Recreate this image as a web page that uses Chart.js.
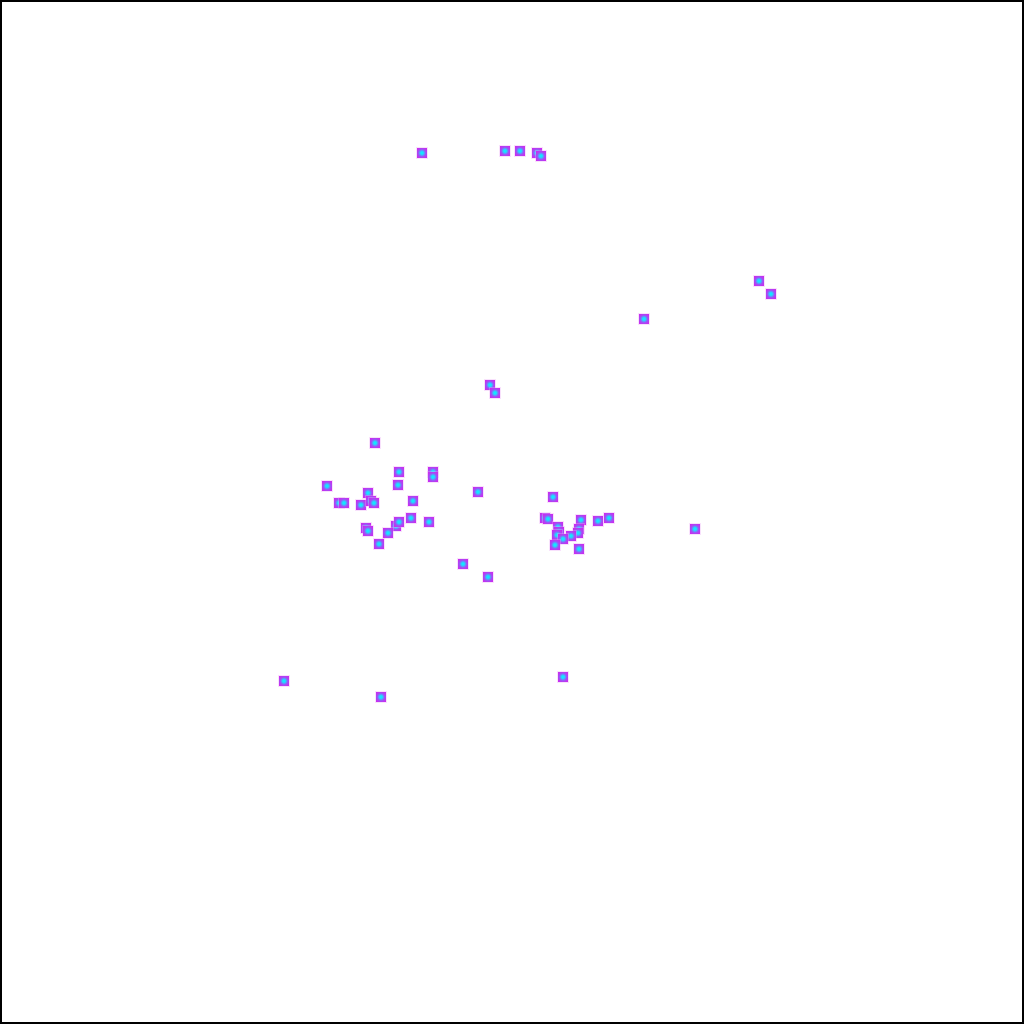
<!DOCTYPE html>
<html>
<head>
<meta charset="utf-8">
<script src="https://cdn.jsdelivr.net/npm/chart.js@4/dist/chart.umd.min.js"></script>
<style>
  html, body { margin: 0; padding: 0; background: #fff; }
  #frame { width: 1024px; height: 1024px; box-sizing: border-box; border: 2px solid #000; }
  #frame canvas { display: block; }
</style>
</head>
<body>
<div id="frame"><canvas id="scatter" width="1020" height="1020"></canvas></div>
<script>
// point positions (same units as the axis range below)
var xs = [422, 505, 520, 537, 541, 759, 771, 644, 490, 495,
          375, 399, 433, 433, 327, 398, 368, 339, 344, 361,
          371, 374, 413, 411, 429, 366, 368, 396, 399, 388,
          379, 478, 553, 545, 548, 581, 598, 609, 558, 559,
          557, 579, 578, 571, 563, 555, 579, 695, 463, 488,
          563, 284, 381];
var ys = [153, 151, 151, 153, 156, 281, 294, 319, 385, 393,
          443, 472, 472, 477, 486, 485, 493, 503, 503, 505,
          501, 503, 501, 518, 522, 528, 531, 526, 522, 533,
          544, 492, 497, 518, 519, 520, 521, 518, 527, 532,
          535, 529, 533, 536, 539, 545, 549, 529, 564, 577,
          677, 681, 697];

var points = [];
for (var i = 0; i < xs.length; i++) {
    points.push({ x: xs[i], y: ys[i] });
}

// small square marker: pale halo, violet edge, cyan glow in the middle
function makeMarker(size) {
    var c = document.createElement('canvas');
    c.width = size + 2;
    c.height = size + 2;
    var g = c.getContext('2d');
    g.fillStyle = 'rgba(235, 170, 245, 0.35)';
    g.fillRect(0, 0, size + 2, size + 2);
    var r = size / 2 + 1;
    var grad = g.createRadialGradient(r, r, 0, r, r, size * 0.62);
    grad.addColorStop(0, 'rgb(0, 250, 255)');
    grad.addColorStop(0.25, 'rgb(40, 210, 255)');
    grad.addColorStop(0.6, 'rgb(160, 80, 245)');
    grad.addColorStop(1, 'rgb(205, 40, 240)');
    g.fillStyle = grad;
    g.fillRect(1, 1, size, size);
    return c;
}
var marker = makeMarker(10);

var ctx = document.getElementById('scatter').getContext('2d');
new Chart(ctx, {
    type: 'scatter',
    data: {
        datasets: [{
            data: points,
            pointStyle: marker,
            pointRadius: 6,
            pointHoverRadius: 6
        }]
    },
    options: {
        responsive: false,
        animation: false,
        layout: { padding: 0, autoPadding: false },
        clip: false,
        scales: {
            x: { type: 'linear', min: 2, max: 1022, display: false },
            y: { type: 'linear', min: 2, max: 1022, reverse: true, display: false }
        },
        plugins: {
            legend: { display: false },
            tooltip: { enabled: false }
        }
    }
});
</script>
</body>
</html>
